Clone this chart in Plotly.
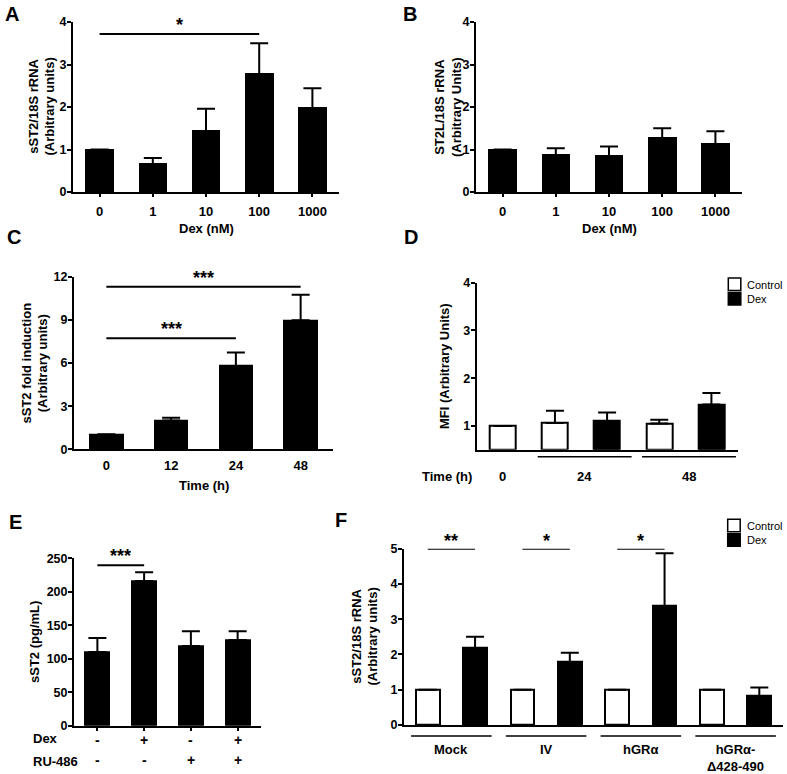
import plotly.graph_objects as go

W, H = 787, 774

# ---------------- data ----------------
A_cats = ["0", "1", "10", "100", "1000"]
A_vals = [1.0, 0.65, 1.43, 2.77, 1.97]
A_tops = [1.0, 0.80, 1.96, 3.50, 2.44]

B_cats = ["0", "1", "10", "100", "1000"]
B_vals = [1.0, 0.87, 0.85, 1.27, 1.12]
B_tops = [1.0, 1.03, 1.07, 1.50, 1.43]

C_cats = ["0", "12", "24", "48"]
C_vals = [1.0, 2.0, 5.8, 8.97]
C_tops = [1.05, 2.2, 6.73, 10.75]

D_groups = ["0", "24", "48"]
D_vals = [1.0, 1.06, 1.10, 1.05, 1.45]
D_tops = [1.0, 1.32, 1.28, 1.13, 1.69]
D_kind = ["Control", "Control", "Dex", "Control", "Dex"]
D_group_of = [0, 1, 1, 2, 2]

E_dex = ["-", "+", "-", "+"]
E_ru = ["-", "-", "+", "+"]
E_vals = [110, 216, 119, 128]
E_tops = [131, 229, 141, 141]

F_groups = ["Mock", "IV", "hGRα", "hGRα-<br>Δ428-490"]
F_ctrl = [1.0, 1.0, 1.0, 1.0]
F_dex = [2.18, 1.79, 3.37, 0.82]
F_dex_tops = [2.5, 2.05, 4.87, 1.06]

# significance: (i, j, height, label)
A_sig = [(0, 3, 3.72, "*")]
C_sig = [(0, 3, 11.3, "***"), (0, 2, 7.72, "***")]
E_sig = [(0, 1, 239.5, "***")]
F_sig = [(0, 1, 5.0, "**"), (2, 3, 5.0, "*"), (4, 5, 5.0, "*")]

FONT = "Liberation Sans, Arial, sans-serif"

# ------------- layout geometry (pixels) -------------
panels = {
    1: dict(xd=(73, 339), yd=(22, 192), yr=(0, 4), dtick=1, n=5),
    2: dict(xd=(476, 742), yd=(22, 192), yr=(0, 4), dtick=1, n=5),
    3: dict(xd=(74, 333), yd=(276.7, 449.3), yr=(0, 12), dtick=3, n=4),
    4: dict(xd=(476.7, 737.5), yd=(282.7, 449.8), yr=(0.5, 4), dtick=1, n=5),
    5: dict(xd=(74, 261), yd=(558.3, 725.7), yr=(0, 250), dtick=50, n=4),
    6: dict(xd=(404, 783), yd=(548.7, 725), yr=(0, 5), dtick=1, n=8),
}

def px(x):
    return x / W

def py(y):
    return 1 - y / H

fig = go.Figure()
layout = dict(width=W, height=H, margin=dict(l=0, r=0, t=0, b=0, autoexpand=False),
              paper_bgcolor="white", plot_bgcolor="white", showlegend=False,
              font=dict(family=FONT, color="black"), bargap=0)

for k, p in panels.items():
    xs = "xaxis" if k == 1 else f"xaxis{k}"
    ys = "yaxis" if k == 1 else f"yaxis{k}"
    xa = "x" if k == 1 else f"x{k}"
    ya = "y" if k == 1 else f"y{k}"
    layout[xs] = dict(domain=[px(p["xd"][0]), px(p["xd"][1])], anchor=ya,
                      range=[-0.5, p["n"] - 0.5], showline=True, linecolor="black",
                      linewidth=2, showgrid=False, zeroline=False, automargin=False,
                      tickfont=dict(size=13, weight="bold", family=FONT),
                      ticks="", showticklabels=False, ticklabelstandoff=3)
    ticks = [t for t in range(0, 1000) if t * p["dtick"] <= p["yr"][1]]
    tvals = [t * p["dtick"] for t in ticks if t * p["dtick"] >= p["yr"][0]]
    layout[ys] = dict(domain=[py(p["yd"][1]), py(p["yd"][0])], anchor=xa,
                      range=list(p["yr"]), showline=True, linecolor="black",
                      linewidth=2, showgrid=False, zeroline=False, automargin=False,
                      ticks="outside", ticklen=4, tickwidth=2, tickcolor="black",
                      tickvals=tvals, ticktext=[str(v) for v in tvals],
                      ticklabelstandoff=-2,
                      tickfont=dict(size=12.5, weight="bold", family=FONT))

# category tick labels for A, B, C
for k, cats, tick in [(1, A_cats, True), (2, B_cats, True), (3, C_cats, False)]:
    xs = "xaxis" if k == 1 else f"xaxis{k}"
    layout[xs].update(showticklabels=True, tickvals=list(range(len(cats))),
                      ticktext=cats, ticks="outside" if tick else "",
                      ticklen=3, tickwidth=1.5, tickcolor="black")
layout["xaxis5"].update(ticks="outside", ticklen=3, tickwidth=1.5, tickcolor="black",
                        tickvals=list(range(4)))

fig.update_layout(**layout)

def err(vals, tops, color="black"):
    return dict(type="data", symmetric=False,
                array=[t - v for v, t in zip(vals, tops)],
                arrayminus=[0] * len(vals), color=color, thickness=2, width=9)

def bars(k, vals, tops, fills, width):
    xa = "x" if k == 1 else f"x{k}"
    ya = "y" if k == 1 else f"y{k}"
    fig.add_trace(go.Bar(x=list(range(len(vals))), y=vals, width=width,
                         marker=dict(color=fills, line=dict(color="black", width=2)),
                         error_y=err(vals, tops), xaxis=xa, yaxis=ya,
                         hoverinfo="skip"))

bars(1, A_vals, A_tops, ["black"] * 5, 0.5)
bars(2, B_vals, B_tops, ["black"] * 5, 0.5)
bars(3, C_vals, C_tops, ["black"] * 4, 0.5)
# D: bars start at axis bottom 0.5
D_fill = ["white" if k == "Control" else "black" for k in D_kind]
fig.add_trace(go.Bar(x=list(range(5)), y=[v - 0.5 for v in D_vals], base=0.5, width=0.5,
                     marker=dict(color=D_fill, line=dict(color="black", width=2)),
                     error_y=err(D_vals, D_tops), xaxis="x4", yaxis="y4", hoverinfo="skip"))
bars(5, E_vals, E_tops, ["black"] * 4, 0.51)
F_vals, F_tops, F_fill = [], [], []
for c, d, dt in zip(F_ctrl, F_dex, F_dex_tops):
    F_vals += [c, d]
    F_tops += [c, dt]
    F_fill += ["white", "black"]
bars(6, F_vals, F_tops, F_fill, 0.5)

shapes = []
annots = []

def ann(**kw):
    d = dict(showarrow=False, xanchor="center", yanchor="middle")
    d.update(kw)
    annots.append(d)

def sig(k, items, star_shift, lw=2):
    xa = "x" if k == 1 else f"x{k}"
    ya = "y" if k == 1 else f"y{k}"
    for i, j, h, lab in items:
        shapes.append(dict(type="line", xref=xa, yref=ya, x0=i, x1=j, y0=h, y1=h,
                           line=dict(color="black", width=lw)))
        ann(xref=xa, yref=ya, x=(i + j) / 2, y=h, text=f"<b>{lab}</b>",
            yshift=star_shift, font=dict(size=18, family=FONT))

sig(1, A_sig, 9)
sig(3, C_sig, 9)
sig(5, E_sig, 9)
sig(6, F_sig, 8)

# group lines and labels under D and F
def group_line(k, first, last, label, ypix, ylab, padl, padr):
    xa = f"x{k}"
    shapes.append(dict(type="line", xref=xa, yref="paper", x0=first - padl, x1=last + padr,
                       y0=py(ypix), y1=py(ypix), line=dict(color="black", width=1.5)))
    ann(xref=xa, yref="paper", x=(first - padl + last + padr) / 2, y=py(ylab),
        text=f"<b>{label}</b>", yanchor="top", font=dict(size=13, family=FONT))

for g, name in enumerate(D_groups):
    idx = [i for i, gg in enumerate(D_group_of) if gg == g]
    if len(idx) == 1:
        ann(xref="x4", yref="paper", x=idx[0], y=py(476.7), text=f"<b>{name}</b>",
            font=dict(size=13, family=FONT))
    else:
        shapes.append(dict(type="line", xref="x4", yref="paper", x0=idx[0] - 0.33,
                           x1=idx[-1] + 0.47, y0=py(456.7), y1=py(456.7),
                           line=dict(color="black", width=1.5)))
        ann(xref="x4", yref="paper", x=(idx[0] - 0.33 + idx[-1] + 0.47) / 2, y=py(476.7),
            text=f"<b>{name}</b>", font=dict(size=13, family=FONT))
ann(xref="paper", yref="paper", x=px(447), y=py(476.7), text="<b>Time (h)</b>",
    font=dict(size=13, family=FONT))

for g, name in enumerate(F_groups):
    group_line(6, 2 * g, 2 * g + 1, name, 736, 740, 0.35, 0.35)

# E row labels
for i, (d, r) in enumerate(zip(E_dex, E_ru)):
    ann(xref="x5", yref="paper", x=i, y=py(740), text=f"<b>{d}</b>",
        font=dict(size=14, family=FONT))
    ann(xref="x5", yref="paper", x=i, y=py(760), text=f"<b>{r}</b>",
        font=dict(size=14, family=FONT))
ann(xref="paper", yref="paper", x=px(31), y=py(738), text="<b>Dex</b>",
    xanchor="left", font=dict(size=13, family=FONT))
ann(xref="paper", yref="paper", x=px(31), y=py(761.7), text="<b>RU-486</b>",
    xanchor="left", font=dict(size=13, family=FONT))

# axis titles
ytitles = [
    (41.5, 107, "sST2/18S rRNA<br>(Arbitrary units)"),
    (448, 107, "ST2L/18S rRNA<br>(Arbitrary Units)"),
    (34.5, 363, "sST2 fold induction<br>(Arbitrary units)"),
    (445, 366, "MFI (Arbitrary Units)"),
    (34, 642, "sST2 (pg/mL)"),
    (364.5, 637, "sST2/18S rRNA<br>(Arbitrary units)"),
]
for x, y, t in ytitles:
    ann(xref="paper", yref="paper", x=px(x), y=py(y), text=f"<b>{t}</b>",
        textangle=-90, font=dict(size=13, family=FONT))
xtitles = [(206, 228.3, "Dex (nM)"), (609, 228.3, "Dex (nM)"), (203.5, 485.7, "Time (h)")]
for x, y, t in xtitles:
    ann(xref="paper", yref="paper", x=px(x), y=py(y), text=f"<b>{t}</b>",
        font=dict(size=13, family=FONT))

# panel letters
for x, y, t in [(11.7, 14, "A"), (410, 14, "B"), (14.5, 236.7, "C"), (410.5, 237.5, "D"),
                (15.5, 522, "E"), (341, 520, "F")]:
    ann(xref="paper", yref="paper", x=px(x), y=py(y), text=f"<b>{t}</b>",
        font=dict(size=20, family=FONT))

# legends
for bx, by in [(728.3, 278), (727.7, 519.3)]:
    for n, (lab, fill) in enumerate([("Control", "white"), ("Dex", "black")]):
        y0 = by + n * 14.5
        shapes.append(dict(type="rect", xref="paper", yref="paper", x0=px(bx), x1=px(bx + 12.5),
                           y0=py(y0 + 12.5), y1=py(y0), fillcolor=fill,
                           line=dict(color="black", width=1.5)))
        ann(xref="paper", yref="paper", x=px(bx + 17), y=py(y0 + 6.5), text=lab,
            xanchor="left", font=dict(size=11, family=FONT))

fig.update_layout(shapes=shapes, annotations=annots)
fig.write_html("out.html", config={"displayModeBar": False},
               post_script="document.body.style.margin='0';document.body.style.overflow='hidden';")
